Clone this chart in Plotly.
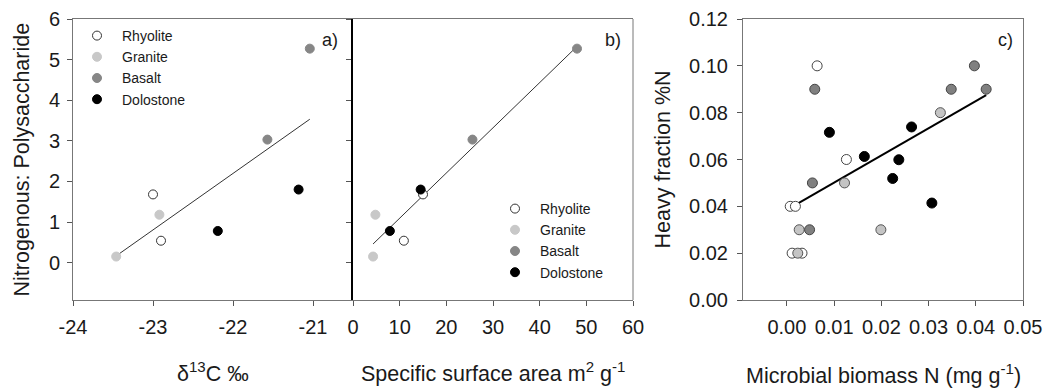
import numpy as np
import plotly.graph_objects as go

# ---------------- data ----------------
rocks = ["Rhyolite", "Granite", "Basalt", "Dolostone"]

# panels a) and b): one value per sample, shared y
rock_ab = ["Rhyolite", "Rhyolite", "Granite", "Granite",
           "Basalt", "Basalt", "Dolostone", "Dolostone"]
d13c = [-23.00, -22.90, -23.46, -22.92, -21.04, -21.57, -22.19, -21.18]
ssa = [15.0, 10.9, 4.3, 4.8, 48.0, 25.6, 7.9, 14.5]
n_poly = [1.68, 0.54, 0.15, 1.18, 5.27, 3.03, 0.78, 1.80]

# panel c)
rock_c = (["Rhyolite"] * 6 + ["Granite"] * 5 + ["Basalt"] * 6 + ["Dolostone"] * 6)
mbn = [0.0064, 0.0126, 0.0007, 0.0018, 0.0011, 0.0032,
       0.0325, 0.0122, 0.0199, 0.0026, 0.0023,
       0.0397, 0.0059, 0.0348, 0.0422, 0.0054, 0.0048,
       0.0090, 0.0164, 0.0264, 0.0237, 0.0224, 0.0307]
heavy_n = [0.100, 0.060, 0.040, 0.040, 0.020, 0.020,
           0.080, 0.050, 0.030, 0.030, 0.020,
           0.100, 0.090, 0.090, 0.090, 0.050, 0.030,
           0.0716, 0.0613, 0.0739, 0.0599, 0.0519, 0.0414]

# tick values
xt_a = [-24, -23, -22, -21]
xt_b = [0, 10, 20, 30, 40, 50, 60]
yt_ab = [0, 1, 2, 3, 4, 5, 6]
xt_c = [0.00, 0.01, 0.02, 0.03, 0.04, 0.05]
yt_c = [0.00, 0.02, 0.04, 0.06, 0.08, 0.10, 0.12]

# ---------------- styles ----------------
W, H = 1048, 389
FONT = "Arial, Liberation Sans, sans-serif"
TXT = "#1a1a1a"
fill_ab = {"Rhyolite": "white", "Granite": "#c8c8c8", "Basalt": "#868686", "Dolostone": "black"}
edge_ab = {"Rhyolite": "#333333", "Granite": "#c8c8c8", "Basalt": "#868686", "Dolostone": "black"}
fill_c = {"Rhyolite": "white", "Granite": "#c4c4c4", "Basalt": "#808080", "Dolostone": "black"}
edge_c = {"Rhyolite": "#444444", "Granite": "#555555", "Basalt": "#444444", "Dolostone": "black"}

fig = go.Figure()


def pick(xs, ys, labels, r):
    sx = [x for x, l in zip(xs, labels) if l == r]
    sy = [y for y, l in zip(ys, labels) if l == r]
    return sx, sy


def fit_line(xs, ys):
    k, b = np.polyfit(np.array(xs), np.array(ys), 1)
    x0, x1 = min(xs), max(xs)
    return [x0, x1], [k * x0 + b, k * x1 + b]


# panel a
lx, ly = fit_line(d13c, n_poly)
fig.add_trace(go.Scatter(x=lx, y=ly, mode="lines", line=dict(color="#333333", width=1),
                         showlegend=False, xaxis="x", yaxis="y"))
for r in rocks:
    sx, sy = pick(d13c, n_poly, rock_ab, r)
    fig.add_trace(go.Scatter(x=sx, y=sy, mode="markers", name=r, legend="legend",
                             marker=dict(size=9, color=fill_ab[r],
                                         line=dict(color=edge_ab[r], width=1)),
                             xaxis="x", yaxis="y"))

# panel b
lx, ly = fit_line(ssa, n_poly)
fig.add_trace(go.Scatter(x=lx, y=ly, mode="lines", line=dict(color="#333333", width=1),
                         showlegend=False, xaxis="x2", yaxis="y2"))
for r in rocks:
    sx, sy = pick(ssa, n_poly, rock_ab, r)
    fig.add_trace(go.Scatter(x=sx, y=sy, mode="markers", name=r, legend="legend2",
                             marker=dict(size=9, color=fill_ab[r],
                                         line=dict(color=edge_ab[r], width=1)),
                             xaxis="x2", yaxis="y2"))

# panel c
lx, ly = fit_line(mbn, heavy_n)
fig.add_trace(go.Scatter(x=lx, y=ly, mode="lines", line=dict(color="black", width=2),
                         showlegend=False, xaxis="x3", yaxis="y3"))
for r in rocks:
    sx, sy = pick(mbn, heavy_n, rock_c, r)
    fig.add_trace(go.Scatter(x=sx, y=sy, mode="markers", name=r, showlegend=False,
                             marker=dict(size=10, color=fill_c[r],
                                         line=dict(color=edge_c[r], width=1)),
                             xaxis="x3", yaxis="y3"))

ydom = [1 - 300 / H, 1 - 19 / H]
axcommon = dict(showgrid=False, zeroline=False, showline=True, linecolor="#777777",
                linewidth=1, ticks="outside", ticklen=5, tickcolor="#555555",
                automargin=False,
                tickfont=dict(size=20, color=TXT, family=FONT))

fig.update_layout(
    template="none",
    width=W, height=H, margin=dict(l=0, r=0, t=0, b=0, autoexpand=False),
    paper_bgcolor="white", plot_bgcolor="white",
    font=dict(family=FONT, color=TXT),
    xaxis=dict(axcommon, domain=[73 / W, 353 / W], range=[-24, -20.5],
               tickvals=xt_a, ticktext=[f"{v:g}" for v in xt_a],
               mirror=True, anchor="y", ticklabelstandoff=4),
    yaxis=dict(axcommon, domain=ydom, range=[-0.92, 6], tickvals=yt_ab,
               ticktext=[f"{v:g}" for v in yt_ab], anchor="x", ticklabelstandoff=3),
    xaxis2=dict(axcommon, domain=[353 / W, 633 / W], range=[0, 60],
                tickvals=xt_b, ticktext=[f"{v:g}" for v in xt_b],
                mirror=True, anchor="y2", ticklabelstandoff=4),
    yaxis2=dict(axcommon, domain=ydom, matches="y", anchor="x2", showticklabels=False,
                tickvals=yt_ab, linecolor="black", linewidth=2),
    xaxis3=dict(axcommon, domain=[743 / W, 1023 / W], range=[-0.0093, 0.05],
                tickvals=xt_c, ticktext=[f"{v:.2f}" for v in xt_c],
                mirror=True, anchor="y3", ticklabelstandoff=4),
    yaxis3=dict(axcommon, domain=ydom, range=[0, 0.12], tickvals=yt_c,
                ticktext=[f"{v:.2f}" for v in yt_c],
                mirror=True, anchor="x3", ticklabelstandoff=5),
    legend=dict(x=72 / W, y=1 - 20 / H, xanchor="left", yanchor="top", itemwidth=40,
                bgcolor="rgba(0,0,0,0)", font=dict(size=14, family=FONT, color=TXT),
                tracegroupgap=0),
    legend2=dict(x=490 / W, y=1 - 193 / H, xanchor="left", yanchor="top", itemwidth=40,
                 bgcolor="rgba(0,0,0,0)", font=dict(size=14, family=FONT, color=TXT),
                 tracegroupgap=0),
    shapes=[dict(type="line", xref="x2 domain", yref="y2 domain", x0=1, x1=1, y0=0, y1=1,
                 line=dict(color="#777777", width=1))],
)

ann = [
    dict(text="Nitrogenous: Polysaccharide", x=21 / W, y=(ydom[0] + ydom[1]) / 2,
         textangle=-90, font=dict(size=21.5)),
    dict(text="Heavy fraction %N", x=662 / W, y=(ydom[0] + ydom[1]) / 2,
         textangle=-90, font=dict(size=21.5)),
    dict(text="δ<sup>13</sup>C ‰", x=213 / W, y=1 - 372 / H, font=dict(size=21.5)),
    dict(text="Specific surface area m<sup>2</sup> g<sup>-1</sup>", x=493 / W,
         y=1 - 372 / H, font=dict(size=21.5)),
    dict(text="Microbial biomass N (mg g<sup>-1</sup>)", x=883 / W, y=1 - 374 / H,
         font=dict(size=21.5)),
    dict(text="a)", x=330 / W, y=1 - 40 / H, font=dict(size=18)),
    dict(text="b)", x=613 / W, y=1 - 40 / H, font=dict(size=18)),
    dict(text="c)", x=1005 / W, y=1 - 40 / H, font=dict(size=18)),
]
for a in ann:
    a.update(xref="paper", yref="paper", showarrow=False, xanchor="center", yanchor="middle")
    a["font"].update(family=FONT, color=TXT)
fig.update_layout(annotations=ann)

fig.write_html("out.html", config={"displayModeBar": False},
               post_script="document.body.style.margin='0';document.body.style.overflow='hidden';")
